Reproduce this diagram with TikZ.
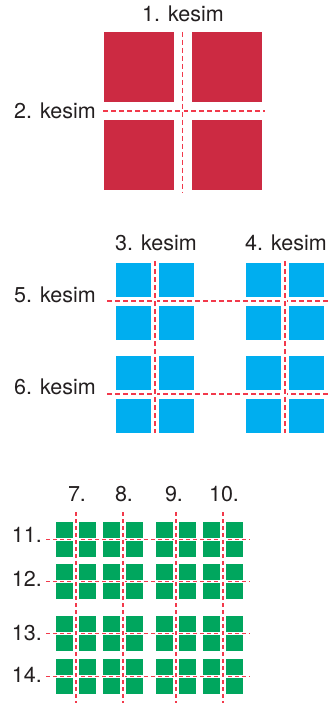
\documentclass[tikz,border=0pt]{standalone}
\usepackage{fontspec}
\setmainfont{TeX Gyre Heros}
\definecolor{sqred}{HTML}{CC2A42}
\definecolor{sqblue}{HTML}{00AEEF}
\definecolor{sqgreen}{HTML}{00A65E}
\definecolor{cutred}{HTML}{F2394B}
\definecolor{txt}{HTML}{231F20}
\begin{document}
\begin{tikzpicture}[x=1pt,y=-1pt,
  cutline/.style={draw=cutred, line width=1.6pt, dash pattern=on 5pt off 3pt,
     preaction={draw=white, line width=3.2pt, solid}},
  lbl/.style={text=txt, inner sep=0pt, font=\fontsize{21.5}{24}\selectfont},
  redsq/.style={fill=sqred},
  bluesq/.style={fill=sqblue},
  greensq/.style={fill=sqgreen}]
\useasboundingbox (0,0) rectangle (330,703);
% ---------- red ----------
\foreach \x in {104,192}{
  \foreach \y in {32,120}{
    \path[redsq] (\x,\y) rectangle ++(70,70);
  }
}
\coordinate (h2a) at (103,111);
\coordinate (h2b) at (265,111);
\coordinate (v1a) at (182.5,32);
\coordinate (v1b) at (182.5,193);
\draw[cutline] (h2a) -- (h2b);
\draw[cutline] (v1a) -- (v1b);
\node[lbl] (k1) at (183,14) {1. kesim};
\node[lbl, anchor=east] (k2) at (96,111) {2. kesim};
% ---------- blue ----------
\foreach \x in {116,159,246,289}{
  \foreach \y in {263,306,356,399}{
    \path[bluesq] (\x,\y) rectangle ++(35,34);
  }
}
\coordinate (h5a) at (107,301);
\coordinate (h5b) at (330,301);
\coordinate (h6a) at (107,394);
\coordinate (h6b) at (330,394);
\coordinate (v3a) at (155,261);
\coordinate (v3b) at (155,433);
\coordinate (v4a) at (285,261);
\coordinate (v4b) at (285,433);
\draw[cutline] (h5a) -- (h5b);
\draw[cutline] (h6a) -- (h6b);
\draw[cutline] (v3a) -- (v3b);
\draw[cutline] (v4a) -- (v4b);
\node[lbl] (k3) at (156,243) {3. kesim};
\node[lbl] (k4) at (286,243) {4. kesim};
\node[lbl, anchor=east] (k5) at (96,295) {5. kesim};
\node[lbl, anchor=east] (k6) at (96,387) {6. kesim};
% ---------- green ----------
\foreach \x in {56,79,103,126,156,179,203,226}{
  \foreach \y in {522,564,616,659}{
    \path[greensq] (\x,\y) rectangle ++(17,35);
  }
}
\foreach \y/\n in {539.5/11,581.5/12,633.5/13,676.5/14}{
  \coordinate (ha\n) at (46,\y);
  \coordinate (hb\n) at (250,\y);
  \draw[cutline, line width=1.5pt, dash pattern=on 4pt off 3pt,
        preaction={draw=white, line width=2.6pt, solid}] (ha\n) -- (hb\n);
}
\foreach \x/\n in {76/7,123/8,176/9,223/10}{
  \coordinate (va\n) at (\x,512);
  \coordinate (vb\n) at (\x,703);
  \draw[cutline, line width=1.5pt, dash pattern=on 4pt off 3pt] (va\n) -- (vb\n);
}
\node[lbl] (g7) at (77,494) {7.};
\node[lbl] (g8) at (124,494) {8.};
\node[lbl] (g9) at (174,494) {9.};
\node[lbl] (g10) at (224,494) {10.};
\node[lbl, anchor=east] (g11) at (42,535) {11.};
\node[lbl, anchor=east] (g12) at (42,579) {12.};
\node[lbl, anchor=east] (g13) at (42,633) {13.};
\node[lbl, anchor=east] (g14) at (42,675) {14.};
\end{tikzpicture}
\end{document}
